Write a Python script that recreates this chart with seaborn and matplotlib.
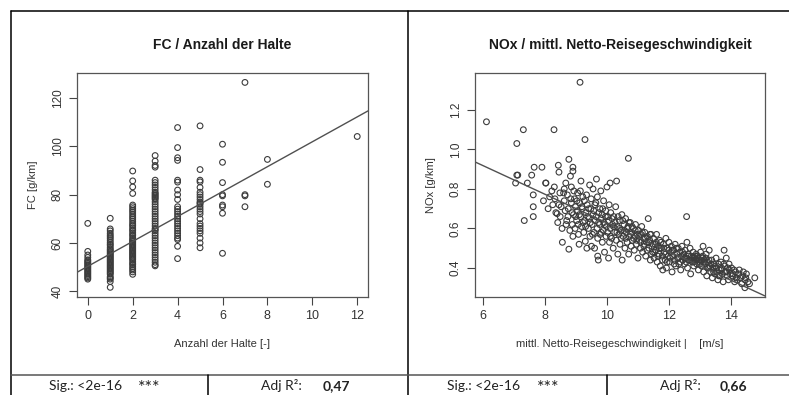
import numpy as np
import pandas as pd
import matplotlib
matplotlib.use("Agg")
import matplotlib.pyplot as plt
from matplotlib.lines import Line2D
import seaborn as sns

# --- left panel: fuel consumption per number of stops ---
fc_stop0 = [68.1, 56.5, 55.0, 54.0, 53.0, 52.5, 52.0, 51.5, 51.0, 50.5, 50.0, 49.5,
            49.0, 48.5, 48.0, 47.5, 47.0, 46.5, 46.0, 45.5, 45.0]
fc_stop1 = [70.2, 65.8, 65.0, 64.0, 63.2, 62.5, 61.8, 61.0, 60.2, 59.5, 59.0, 58.2,
            57.5, 57.0, 56.5, 56.0, 55.5, 55.0, 54.5, 54.0, 53.5, 53.0, 52.5, 52.0,
            51.5, 51.0, 50.5, 50.0, 49.5, 49.0, 48.5, 48.0, 47.5, 47.0, 46.0, 45.5,
            45.0, 44.0, 41.6]
fc_stop2 = [89.8, 85.7, 83.2, 80.5, 75.7, 75.0, 74.2, 73.5, 72.8, 72.0, 71.2, 70.5,
            69.8, 69.0, 68.2, 67.5, 67.0, 66.2, 65.5, 65.0, 64.2, 63.5, 63.0, 62.2,
            61.5, 61.0, 60.5, 60.0, 59.5, 59.0, 58.5, 58.0, 57.5, 57.0, 56.5, 56.0,
            55.5, 55.0, 54.5, 54.0, 53.5, 53.0, 52.2, 51.5, 51.0, 50.2, 49.5, 48.8,
            48.0, 47.0]
fc_stop3 = [96.2, 93.9, 92.1, 91.4, 86.0, 85.0, 84.0, 83.0, 82.0, 81.0, 80.5, 80.0,
            79.5, 79.0, 78.5, 78.0, 77.0, 76.0, 75.0, 74.0, 73.0, 72.0, 71.0, 70.0,
            69.0, 68.0, 67.0, 66.0, 65.5, 65.0, 64.0, 63.0, 62.0, 61.0, 60.0, 59.0,
            58.0, 57.0, 56.0, 55.0, 54.0, 53.0, 52.0, 51.0, 50.5]
fc_stop4 = [107.8, 99.5, 95.3, 94.2, 86.0, 85.2, 81.9, 80.0, 78.0, 75.0, 74.0, 73.0,
            72.0, 71.0, 70.0, 69.0, 68.0, 67.0, 66.0, 65.0, 64.0, 63.0, 62.0, 61.4,
            58.6, 53.5]
fc_stop5 = [108.5, 90.4, 86.0, 85.3, 83.0, 81.0, 80.0, 79.0, 78.0, 77.0, 76.5, 76.0,
            75.0, 74.0, 73.0, 72.0, 70.0, 68.0, 67.0, 66.0, 65.0, 64.0, 62.0, 60.0, 58.0]
fc_stop6 = [100.9, 93.4, 85.0, 80.0, 79.5, 75.7, 75.0, 72.3, 55.7]
fc_stop7 = [126.5, 80.0, 79.5, 75.0]
fc_stop8 = [94.6, 84.3]
fc_stop12 = [104.1]
fc_fit = (50.3, 5.16)          # intercept, slope

# --- right panel: NOx per mean net travel speed ---
nox_speed = [
    6.11, 7.05, 7.09, 7.09, 7.12, 7.30, 7.33, 7.43, 7.57, 7.62, 7.62, 7.62, 7.65, 7.90, 7.95,
    8.02, 8.03, 8.10, 8.15, 8.22, 8.25, 8.29, 8.30, 8.32, 8.35, 8.39, 8.41, 8.43, 8.45, 8.45,
    8.48, 8.49,
    8.52, 8.55, 8.56, 8.60, 8.62, 8.65, 8.67, 8.70, 8.72, 8.75, 8.77, 8.77, 8.80, 8.82, 8.85,
    8.85, 8.88, 8.90, 8.90, 8.90, 8.92, 8.95, 8.97, 8.98,
    9.02, 9.05, 9.05, 9.08, 9.10, 9.12, 9.13, 9.15, 9.16, 9.18, 9.20, 9.22, 9.25, 9.28, 9.29,
    9.30, 9.32, 9.35, 9.36, 9.40, 9.42, 9.44, 9.45, 9.48,
    9.50, 9.52, 9.55, 9.55, 9.58, 9.60, 9.62, 9.64, 9.66, 9.68, 9.70, 9.70, 9.72, 9.74, 9.76,
    9.78, 9.80, 9.82, 9.85, 9.86, 9.88, 9.90, 9.92, 9.95, 9.97, 9.98,
    10.00, 10.02, 10.05, 10.05, 10.08, 10.10, 10.10, 10.12, 10.15, 10.18, 10.20, 10.22, 10.25,
    10.28, 10.30, 10.31, 10.33, 10.35, 10.38, 10.40, 10.42, 10.45, 10.48, 10.49,
    10.52, 10.55, 10.58, 10.60, 10.62, 10.65, 10.68, 10.69, 10.70, 10.72, 10.75, 10.78, 10.80,
    10.82, 10.85, 10.88, 10.90, 10.92, 10.95, 10.98,
    11.00, 11.02, 11.05, 11.08, 11.10, 11.12, 11.15, 11.18, 11.20, 11.22, 11.25, 11.28, 11.30,
    11.33, 11.35, 11.38, 11.40, 11.42, 11.45, 11.48,
    11.50, 11.52, 11.55, 11.58, 11.60, 11.62, 11.65, 11.68, 11.70, 11.72, 11.75, 11.78, 11.80,
    11.82, 11.85, 11.88, 11.90, 11.92, 11.95, 11.98,
    12.00, 12.02, 12.05, 12.08, 12.10, 12.12, 12.15, 12.18, 12.20, 12.22, 12.25, 12.28, 12.30,
    12.32, 12.35, 12.38, 12.40, 12.42, 12.45, 12.48,
    12.50, 12.52, 12.55, 12.57, 12.58, 12.60, 12.62, 12.65, 12.68, 12.70, 12.72, 12.75, 12.78,
    12.80, 12.82, 12.85, 12.88, 12.90, 12.92, 12.95, 12.98,
    13.00, 13.02, 13.05, 13.08, 13.10, 13.12, 13.15, 13.18, 13.20, 13.22, 13.25, 13.28, 13.30,
    13.32, 13.35, 13.38, 13.40, 13.42, 13.45, 13.48,
    13.50, 13.52, 13.55, 13.58, 13.60, 13.62, 13.65, 13.68, 13.70, 13.72, 13.75, 13.78, 13.80,
    13.82, 13.85, 13.88, 13.90, 13.92, 13.95, 13.98,
    14.02, 14.05, 14.10, 14.12, 14.15, 14.20, 14.25, 14.30, 14.35, 14.40, 14.45, 14.45, 14.50,
    14.55, 14.77,
]
nox_value = [
    1.14, 0.83, 0.87, 1.03, 0.87, 1.10, 0.64, 0.83, 0.87, 0.77, 0.71, 0.66, 0.91, 0.91, 0.74,
    0.83, 0.83, 0.70, 0.76, 0.79, 0.72, 1.10, 0.81, 0.75, 0.68, 0.675, 0.63, 0.92, 0.885, 0.72,
    0.78, 0.66,
    0.71, 0.60, 0.53, 0.78, 0.74, 0.69, 0.83, 0.64, 0.77, 0.70, 0.95, 0.495, 0.59, 0.865, 0.81,
    0.73, 0.62, 0.91, 0.89, 0.56, 0.67, 0.75, 0.60, 0.71,
    0.64, 0.69, 0.78, 0.57, 0.52, 0.73, 1.34, 0.66, 0.84, 0.61, 0.70, 0.76, 0.58, 0.64, 1.05,
    0.535, 0.68, 0.50, 0.72, 0.60, 0.65, 0.82, 0.56, 0.70,
    0.51, 0.62, 0.80, 0.67, 0.58, 0.50, 0.64, 0.73, 0.85, 0.60, 0.46, 0.55, 0.44, 0.68, 0.62,
    0.57, 0.79, 0.65, 0.53, 0.70, 0.59, 0.63, 0.48, 0.66, 0.56, 0.61,
    0.81, 0.58, 0.45, 0.64, 0.53, 0.83, 0.60, 0.68, 0.55, 0.62, 0.50, 0.66, 0.58,
    0.71, 0.54, 0.84, 0.61, 0.47, 0.57, 0.64, 0.52, 0.59, 0.67, 0.44,
    0.56, 0.62, 0.50, 0.65, 0.58, 0.53, 0.61, 0.955, 0.47, 0.56, 0.63, 0.51, 0.58,
    0.54, 0.60, 0.49, 0.56, 0.62, 0.52, 0.57,
    0.45, 0.59, 0.54, 0.50, 0.57, 0.61, 0.48, 0.55, 0.52, 0.58, 0.46, 0.53, 0.56,
    0.65, 0.50, 0.54, 0.44, 0.57, 0.51, 0.48,
    0.55, 0.45, 0.52, 0.49, 0.57, 0.43, 0.51, 0.47, 0.54, 0.41, 0.50, 0.46, 0.39,
    0.52, 0.48, 0.44, 0.55, 0.40, 0.50, 0.46,
    0.53, 0.43, 0.48, 0.51, 0.38, 0.46, 0.49, 0.44, 0.52, 0.41, 0.47, 0.45, 0.50,
    0.42, 0.48, 0.39, 0.46, 0.51, 0.44, 0.47,
    0.42, 0.49, 0.45, 0.66, 0.53, 0.40, 0.47, 0.44, 0.50, 0.37, 0.46, 0.43, 0.48,
    0.41, 0.45, 0.44, 0.47, 0.42, 0.46, 0.39, 0.44,
    0.43, 0.48, 0.41, 0.45, 0.51, 0.38, 0.44, 0.42, 0.47, 0.36, 0.43, 0.40, 0.49,
    0.41, 0.38, 0.44, 0.35, 0.40, 0.42, 0.37,
    0.41, 0.45, 0.38, 0.34, 0.42, 0.39, 0.36, 0.43, 0.40, 0.37, 0.33, 0.49, 0.41,
    0.38, 0.45, 0.36, 0.40, 0.34, 0.39, 0.37,
    0.40, 0.36, 0.39, 0.33, 0.38, 0.34, 0.37, 0.35, 0.32, 0.38, 0.34, 0.30, 0.37,
    0.33, 0.35,
]
# the overlapping core of the cloud
nox_speed_dense = [
    8.62, 8.68, 8.74, 8.83, 8.87, 8.93, 8.99, 9.03, 9.07, 9.11, 9.14, 9.19, 9.23, 9.27, 9.31,
    9.34, 9.38, 9.41, 9.46, 9.49, 9.53, 9.57, 9.61, 9.65, 9.69, 9.73, 9.77, 9.81, 9.84, 9.89,
    9.93, 9.96,
    10.03, 10.07, 10.11, 10.16, 10.21, 10.26, 10.32, 10.36, 10.41, 10.46, 10.51, 10.56, 10.61,
    10.66, 10.71, 10.76, 10.81, 10.86, 10.91, 10.96,
    11.03, 11.09, 11.14, 11.19, 11.24, 11.29, 11.34, 11.39, 11.44, 11.49, 11.54, 11.59, 11.64,
    11.69, 11.74, 11.79, 11.84, 11.89, 11.94, 11.99,
    12.04, 12.11, 12.17, 12.24, 12.31, 12.37, 12.44, 12.51, 12.56, 12.63, 12.69, 12.74, 12.79,
    12.84, 12.89, 12.94, 12.99, 13.04, 13.09, 13.14, 13.19, 13.24, 13.29,
    13.36, 13.44, 13.53, 13.61, 13.69, 13.77, 13.86, 13.94, 14.07, 14.17, 14.27, 14.38, 14.48,
    14.60,
]
nox_value_dense = [
    0.80, 0.62, 0.66, 0.75, 0.68, 0.79, 0.66, 0.74, 0.62, 0.67, 0.79, 0.71, 0.63, 0.74, 0.61,
    0.77, 0.66, 0.70, 0.63, 0.75, 0.57, 0.69, 0.72, 0.66, 0.76, 0.63, 0.70, 0.58, 0.67, 0.74,
    0.62, 0.69,
    0.66, 0.72, 0.56, 0.65, 0.61, 0.63, 0.58, 0.66, 0.60, 0.55, 0.64, 0.59, 0.55,
    0.60, 0.63, 0.57, 0.61, 0.55, 0.59, 0.54,
    0.56, 0.53, 0.58, 0.51, 0.55, 0.49, 0.53, 0.57, 0.47, 0.52, 0.48, 0.53, 0.46,
    0.50, 0.53, 0.44, 0.50, 0.47, 0.43, 0.49,
    0.45, 0.49, 0.42, 0.50, 0.45, 0.43, 0.48, 0.45, 0.43, 0.46, 0.44, 0.45, 0.43,
    0.46, 0.44, 0.45, 0.42, 0.44, 0.46, 0.43, 0.45, 0.40, 0.44,
    0.42, 0.38, 0.40, 0.36, 0.39, 0.42, 0.38, 0.42, 0.37, 0.35, 0.39, 0.36, 0.35,
    0.32,
]
nox_fit = (1.353, -0.0725)     # intercept, slope

footer_left = ("Sig.: <2e-16", "***", "Adj R²:", "0,47")
footer_right = ("Sig.: <2e-16", "***", "Adj R²:", "0,66")

fc_cols = {0: fc_stop0, 1: fc_stop1, 2: fc_stop2, 3: fc_stop3, 4: fc_stop4, 5: fc_stop5,
           6: fc_stop6, 7: fc_stop7, 8: fc_stop8, 12: fc_stop12}
fc_df = pd.DataFrame([(k, v) for k, vals in fc_cols.items() for v in vals],
                     columns=["halte", "fc"])
nox_df = pd.DataFrame({"speed": nox_speed + nox_speed_dense,
                       "nox": nox_value + nox_value_dense})

sns.set_style("white")
plt.rcParams["font.family"] = ["Liberation Sans", "DejaVu Sans"]

W, H = 789, 395
fig = plt.figure(figsize=(W / 100, H / 100), dpi=100)

def fx(px):
    return px / W

def fy(py):
    return 1 - py / H

pt_color = "#3c3c3c"
ax1 = fig.add_axes([fx(77), fy(297), fx(368) - fx(77), fy(73) - fy(297)])
ax2 = fig.add_axes([fx(475), fy(297), fx(765) - fx(475), fy(73) - fy(297)])

sns.scatterplot(data=fc_df, x="halte", y="fc", ax=ax1, marker="o", s=17,
                facecolor="none", edgecolor=pt_color, linewidth=0.8)
sns.scatterplot(data=nox_df, x="speed", y="nox", ax=ax2, marker="o", s=17,
                facecolor="none", edgecolor=pt_color, linewidth=0.8)

ax1.axline((0, fc_fit[0]), slope=fc_fit[1], color="#505050", lw=1.0)
ax2.axline((0, nox_fit[0]), slope=nox_fit[1], color="#505050", lw=1.0)

ax1.set_xlim(-0.48, 12.48)
ax1.set_ylim(37.6, 130.4)
ax1.set_xticks([0, 2, 4, 6, 8, 10, 12])
ax1.set_yticks([40, 60, 80, 100, 120])
ax2.set_xlim(5.74, 15.1)
ax2.set_ylim(0.253, 1.387)
ax2.set_xticks([6, 8, 10, 12, 14])
ax2.set_yticks([0.4, 0.6, 0.8, 1.0, 1.2])
ax2.set_yticklabels(["0.4", "0.6", "0.8", "1.0", "1.2"])

titles = ["FC / Anzahl der Halte", "NOx / mittl. Netto-Reisegeschwindigkeit"]
xlabels = ["Anzahl der Halte [-]", "mittl. Netto-Reisegeschwindigkeit |    [m/s]"]
ylabels = ["FC [g/km]", "NOx [g/km]"]
for ax, t, xl, yl in zip([ax1, ax2], titles, xlabels, ylabels):
    ax.set_title(t, fontsize=10, fontweight="bold", color="#1a1a1a", pad=17)
    ax.set_xlabel(xl, fontsize=8, color="#333333", labelpad=12,
                  family=["Liberation Sans Narrow", "Liberation Sans"])
    ax.set_ylabel(yl, fontsize=8, color="#333333", labelpad=10,
                  family=["Liberation Sans Narrow", "Liberation Sans"])
    ax.tick_params(axis="both", direction="out", length=5.5, width=0.8,
                   color="#444444", labelcolor="#333333", pad=4, bottom=True, left=True)
    ax.tick_params(axis="x", labelsize=9)
    ax.tick_params(axis="y", labelsize=8.5)
    for lab in ax.get_yticklabels():
        lab.set_rotation(90)
        lab.set_va("center")
    for sp in ax.spines.values():
        sp.set_color("#555555")
        sp.set_linewidth(0.9)

# outer frame and footer table
frame = dict(color="black", lw=1.1, transform=fig.transFigure)
fig.add_artist(Line2D([fx(11), fx(11)], [0, fy(11)], **frame))
fig.add_artist(Line2D([fx(11), 1], [fy(11), fy(11)], **frame))
fig.add_artist(Line2D([fx(408), fx(408)], [0, fy(11)], **frame))
fig.add_artist(Line2D([fx(11), 1], [fy(375), fy(375)], color="#555555", lw=1.1,
                      transform=fig.transFigure))
fig.add_artist(Line2D([fx(208), fx(208)], [0, fy(375)], **frame))
fig.add_artist(Line2D([fx(607), fx(607)], [0, fy(375)], **frame))

foot = dict(family=["Lato", "DejaVu Sans"], va="center", color="#222222")
for texts, xs in [(footer_left, (49, 138, 261, 323)), (footer_right, (447, 537, 660, 720))]:
    for i, (s, px) in enumerate(zip(texts, xs)):
        size = 13 if i == 1 else 10
        ypos = fy(388) if i == 1 else fy(386)
        fig.text(fx(px), ypos, s, ha="left", fontsize=size,
                 fontweight="bold" if i == 3 else "normal", **foot)

fig.savefig("out.png", dpi=100)
